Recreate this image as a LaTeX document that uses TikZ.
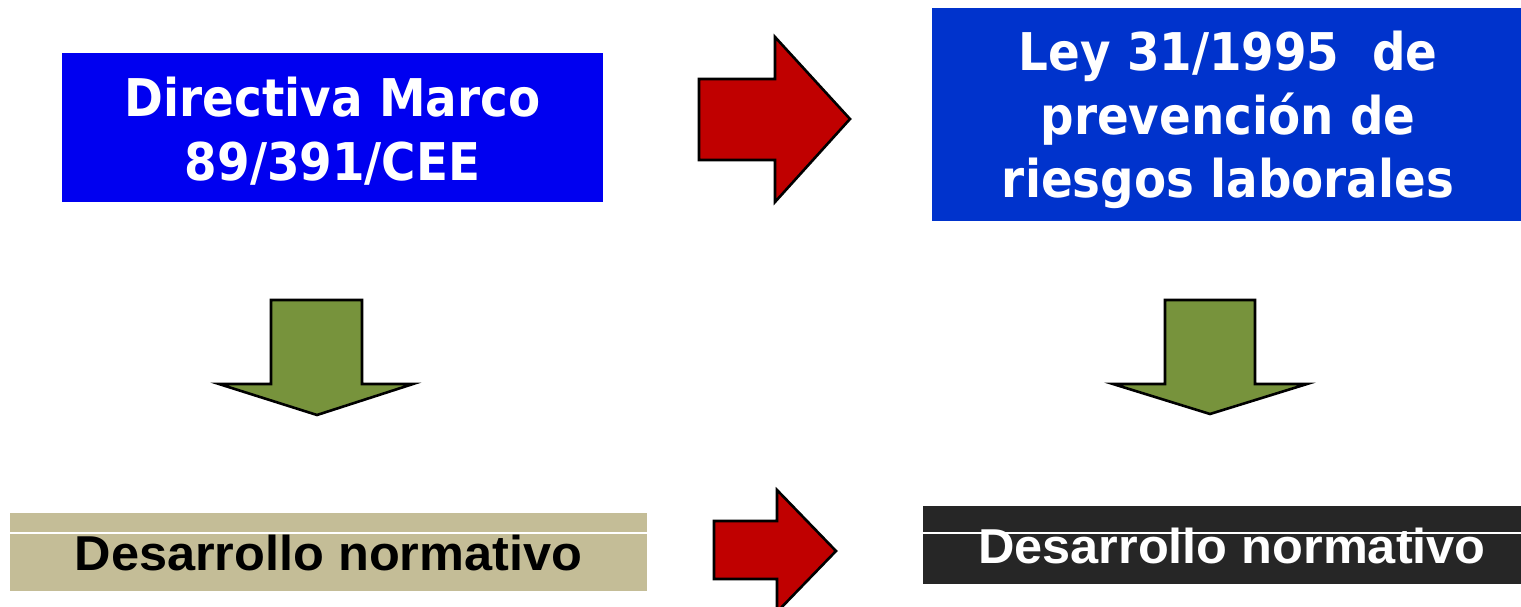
\documentclass[tikz,border=0pt]{standalone}
\usepackage{fontspec}
\setmainfont{DejaVu Sans}
\newfontfamily\topfont[FakeStretch=0.9]{DejaVu Sans}
\newfontfamily\botfont[FakeStretch=1.03]{Liberation Sans}
\definecolor{boxblue}{HTML}{0000F0}
\definecolor{boxblueb}{HTML}{0033CC}
\definecolor{tan}{HTML}{C4BD97}
\definecolor{darkbox}{HTML}{262626}
\definecolor{arrowred}{HTML}{C00000}
\definecolor{arrowgreen}{HTML}{77933C}
\tikzset{
  box/.style={draw=none, inner sep=0pt, anchor=north west},
  bigtext/.style={inner sep=0pt, anchor=base, text=white, font=\fontsize{52}{62}\topfont\bfseries},
  smalltext/.style={inner sep=0pt, anchor=base, font=\fontsize{49}{56}\botfont\bfseries},
  fatarrow/.style={draw=black, line width=2.6pt, line join=miter},
  divider/.style={draw=white, line width=1.2pt}
}
\begin{document}
\begin{tikzpicture}[x=1pt,y=-1pt]
\useasboundingbox (0,0) rectangle (1521,607);
\clip (0,0) rectangle (1521,607);
% top boxes
\node[box, fill=boxblue, minimum width=541pt, minimum height=149pt] (dir) at (62,53) {};
\node[bigtext] (dir1) at (332.5,117) {Directiva Marco};
\node[bigtext] (dir2) at (332.5,181) {89/391/CEE};
\node[box, fill=boxblueb, minimum width=589pt, minimum height=213pt] (ley) at (932,8) {};
\node[bigtext] (ley1) at (1228,71) {Ley 31/1995\ \ de};
\node[bigtext] (ley2) at (1228,135) {prevención de};
\node[bigtext] (ley3) at (1228,197) {riesgos laborales};
% bottom boxes
\node[box, fill=tan, minimum width=637pt, minimum height=78pt] (desa) at (10,513) {};
\node[box, fill=darkbox, minimum width=598pt, minimum height=78pt] (desb) at (923,506) {};
\coordinate (la) at (10,533);
\coordinate (lb) at (923,533);
\draw[divider] (la) -- (la -| desa.east);
\draw[divider] (lb) -- (lb -| desb.east);
\node[smalltext, text=black] (desat) at (328.5,570) {Desarrollo normativo};
\node[smalltext, text=white] (desbt) at (1232,563) {Desarrollo normativo};
% red arrows
\draw[fatarrow, fill=arrowred] (699,79) -- (775,79) -- (775,37) -- (850,119) -- (775,202) -- (775,160) -- (699,160) -- cycle;
\draw[fatarrow, fill=arrowred] (714,521) -- (777,521) -- (777,490) -- (836,551) -- (777,612) -- (777,579) -- (714,579) -- cycle;
% green arrows
\draw[fatarrow, fill=arrowgreen] (271,300) -- (362,300) -- (362,384) -- (413,384) -- (317,415) -- (219,384) -- (271,384) -- cycle;
\draw[fatarrow, fill=arrowgreen] (1165,300) -- (1255,300) -- (1255,384) -- (1307,384) -- (1210,414) -- (1113,384) -- (1165,384) -- cycle;
\end{tikzpicture}
\end{document}
